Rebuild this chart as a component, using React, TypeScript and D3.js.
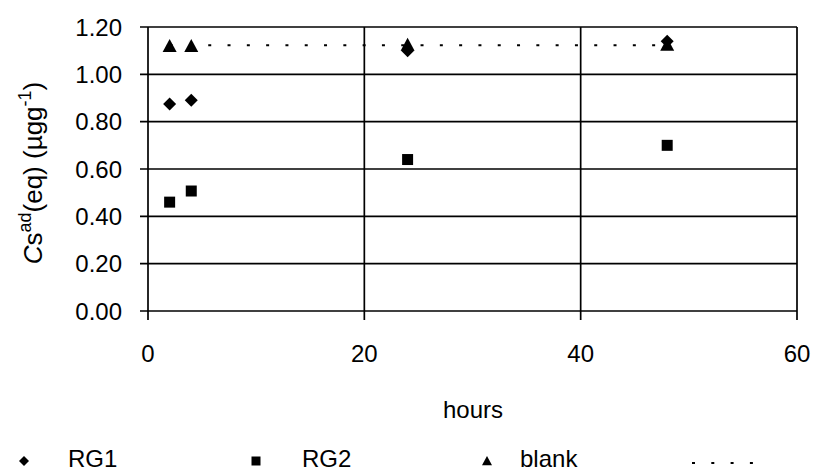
import React from "react";
import * as d3 from "d3";

// sampling times (hours)
const hours = [2, 4, 24, 48];
// Cs ad (eq) values, µg/g
const rg1 = [0.875, 0.89, 1.10, 1.14];
const rg2 = [0.46, 0.507, 0.64, 0.70];
const blank = [1.12, 1.12, 1.125, 1.125];

const xTicks = [0, 20, 40, 60];
const yTicks = [0, 0.2, 0.4, 0.6, 0.8, 1.0, 1.2];

const W = 816;
const H = 474;
const FONT = "'Liberation Sans', Arial, Helvetica, sans-serif";

const x = d3.scaleLinear().domain([0, 60]).range([148, 797]);
const y = d3.scaleLinear().domain([0, 1.2]).range([311, 27]);

const diamond = (cx: number, cy: number, r: number) =>
  `M${cx},${cy - r}L${cx + r},${cy}L${cx},${cy + r}L${cx - r},${cy}Z`;
const square = (cx: number, cy: number, r: number) =>
  `M${cx - r},${cy - r}h${2 * r}v${2 * r}h${-2 * r}Z`;
const triangle = (cx: number, cy: number, r: number) =>
  `M${cx},${cy - r}L${cx + r},${cy + r * 0.85}L${cx - r},${cy + r * 0.85}Z`;

export default function App() {
  const blankMean = d3.mean(blank) as number;
  const meanLine = d3
    .line<number>()
    .x((d) => x(d))
    .y(() => y(blankMean));
  const [h0, h1] = d3.extent(hours) as [number, number];

  return (
    <svg
      width={W}
      height={H}
      style={{ position: "absolute", left: 0, top: 0, background: "#fff" }}
      fontFamily={FONT}
    >
      {/* horizontal gridlines + y ticks */}
      {yTicks.map((t) => (
        <g key={"y" + t}>
          <line x1={x(0) - 8} x2={x(60)} y1={y(t)} y2={y(t)} stroke="#000" strokeWidth={1.7} />
          <text x={122} y={y(t)} dy="0.36em" textAnchor="end" fontSize={24}>
            {t.toFixed(2)}
          </text>
        </g>
      ))}
      {/* vertical gridlines + x ticks */}
      {xTicks.map((t) => (
        <g key={"x" + t}>
          <line x1={x(t)} x2={x(t)} y1={y(1.2)} y2={y(0) + 9} stroke="#000" strokeWidth={1.7} />
          <text x={x(t)} y={362} textAnchor="middle" fontSize={24}>
            {t}
          </text>
        </g>
      ))}

      {/* blank mean dotted line */}
      <path
        d={meanLine([h0, h1]) as string}
        stroke="#000"
        strokeWidth={2}
        strokeDasharray="3 16.3"
        fill="none"
      />

      {hours.map((h, i) => (
        <path key={"b" + i} d={triangle(x(h), y(blank[i]), 7)} fill="#000" />
      ))}
      {hours.map((h, i) => (
        <path key={"r1" + i} d={diamond(x(h), y(rg1[i]), 6.5)} fill="#000" />
      ))}
      {hours.map((h, i) => (
        <path key={"r2" + i} d={square(x(h), y(rg2[i]), 5.5)} fill="#000" />
      ))}

      {/* axis titles */}
      <text x={473} y={418} textAnchor="middle" fontSize={24}>
        hours
      </text>
      <text
        transform="translate(42,173) rotate(-90)"
        textAnchor="middle"
        fontSize={26}
      >
        <tspan fontStyle="italic">C</tspan>
        <tspan>s</tspan>
        <tspan dy={-11} fontSize={18}>ad</tspan>
        <tspan dy={11}>(eq) (µgg</tspan>
        <tspan dy={-11} fontSize={18}>-1</tspan>
        <tspan dy={11}>)</tspan>
      </text>

      {/* legend */}
      <g fontSize={24}>
        <path d={diamond(24, 461, 5)} fill="#000" />
        <text x={68} y={467}>RG1</text>
        <path d={square(256, 461, 4.5)} fill="#000" />
        <text x={302} y={467}>RG2</text>
        <path d={triangle(487, 461, 5)} fill="#000" />
        <text x={520} y={467}>blank</text>
        <line x1={692} x2={756} y1={463} y2={463} stroke="#000" strokeWidth={2} strokeDasharray="3 16.3" />
      </g>
    </svg>
  );
}
